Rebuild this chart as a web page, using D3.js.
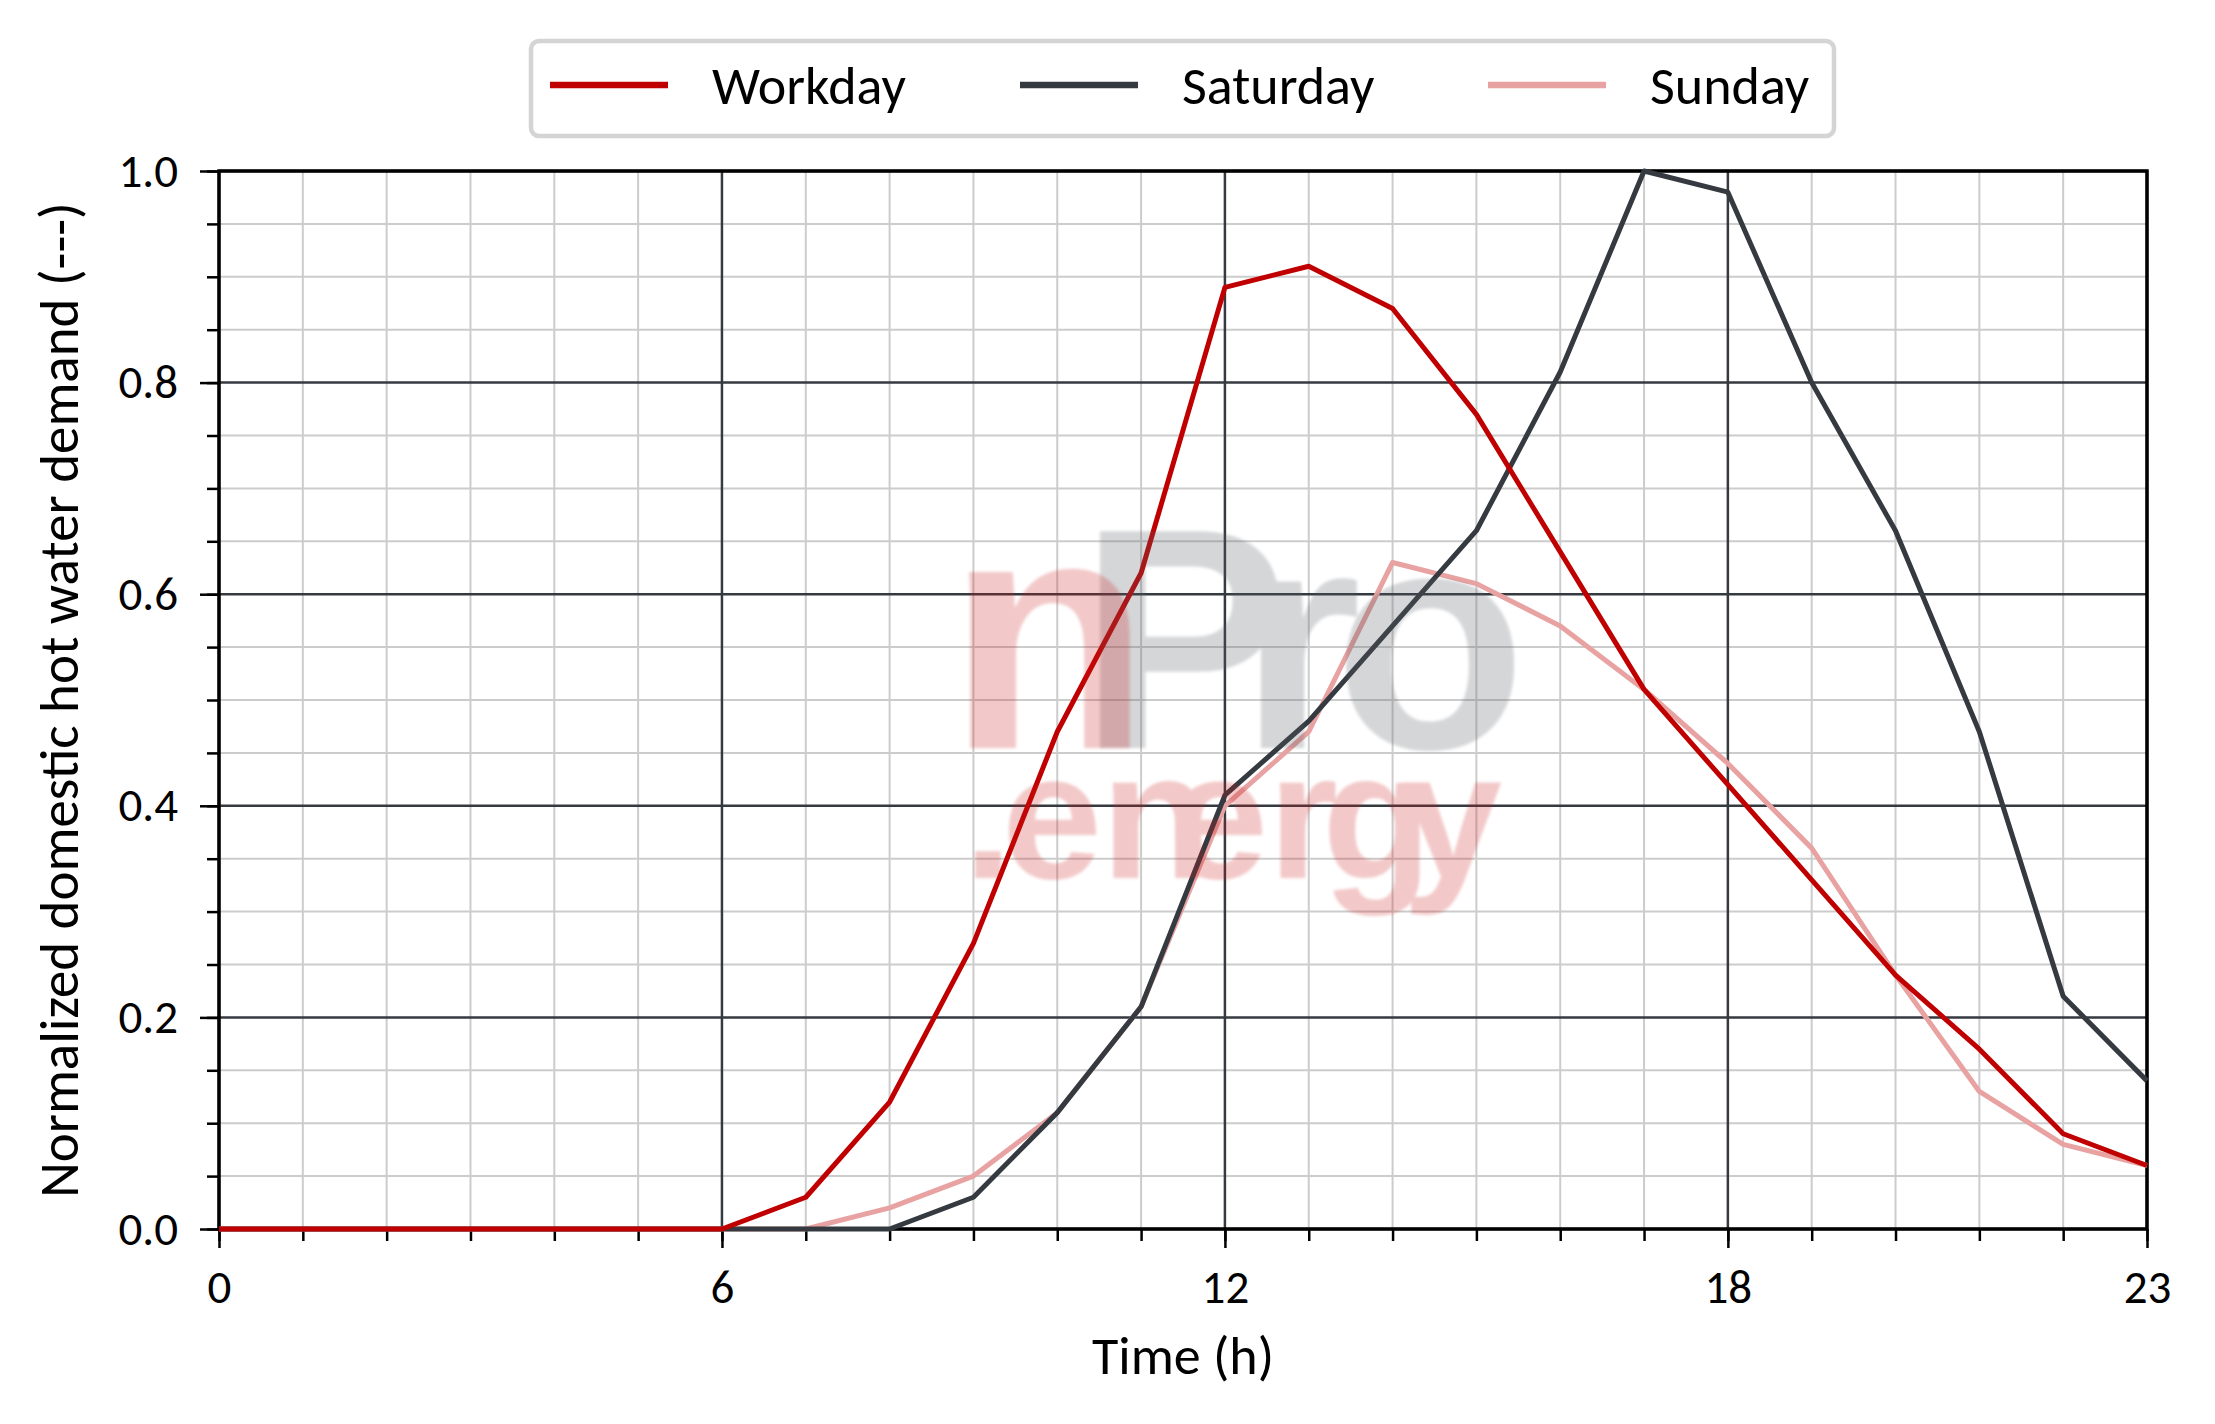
<!DOCTYPE html>
<html>
<head>
<meta charset="utf-8">
<script src="https://cdn.jsdelivr.net/npm/d3@7"></script>
<style>
  html, body { margin: 0; padding: 0; background: #ffffff; }
  svg { display: block; }
  text { font-family: Carlito, Lato, "Open Sans", sans-serif; }
  text.wm { font-family: "Liberation Sans", Arial, sans-serif; font-weight: bold; }
</style>
</head>
<body>
<svg id="chart" width="2215" height="1424"></svg>
<script>
// ---------- data ----------
const hours = [0,1,2,3,4,5,6,7,8,9,10,11,12,13,14,15,16,17,18,19,20,21,22,23];
const workday  = [0,0,0,0,0,0,0,0.03,0.12,0.27,0.47,0.62,0.89,0.91,0.87,0.77,0.64,0.51,0.42,0.33,0.24,0.17,0.09,0.06];
const saturday = [0,0,0,0,0,0,0,0,0,0.03,0.11,0.21,0.41,0.48,0.57,0.66,0.81,1.00,0.98,0.80,0.66,0.47,0.22,0.14];
const sunday   = [0,0,0,0,0,0,0,0,0.02,0.05,0.11,0.21,0.40,0.47,0.63,0.61,0.57,0.51,0.44,0.36,0.24,0.13,0.08,0.06];
const seriesNames = ["Workday", "Saturday", "Sunday"];
const xMajorTicks = [0, 6, 12, 18, 23];
const yMajorTicks = [0, 0.2, 0.4, 0.6, 0.8, 1.0];
const xLabel = "Time (h)";
const yLabel = "Normalized domestic hot water demand (---)";

// ---------- layout ----------
const W = 2215, H = 1424;
const M = { left: 219, right: 2147, top: 171, bottom: 1229 };
const colors = { Workday: "#c00000", Saturday: "#343a40", Sunday: "#e8a2a2" };

const svg = d3.select("#chart");
svg.append("rect").attr("width", W).attr("height", H).attr("fill", "#ffffff");

const x = d3.scaleLinear().domain([0, 23]).range([M.left, M.right]);
const y = d3.scaleLinear().domain([0, 1]).range([M.bottom, M.top]);

// minor grid
const yMinor = d3.range(0, 21).map(i => i * 0.05);
const grid = svg.append("g");
grid.selectAll("line.xm").data(hours.filter(h => !xMajorTicks.includes(h))).join("line")
  .attr("x1", d => x(d)).attr("x2", d => x(d)).attr("y1", M.top).attr("y2", M.bottom)
  .attr("stroke", "#cccccc").attr("stroke-width", 2);
grid.selectAll("line.ym").data(yMinor.filter((v, i) => i % 4 !== 0)).join("line")
  .attr("y1", d => y(d)).attr("y2", d => y(d)).attr("x1", M.left).attr("x2", M.right)
  .attr("stroke", "#cccccc").attr("stroke-width", 2);
// major grid
grid.selectAll("line.xM").data(xMajorTicks).join("line")
  .attr("x1", d => x(d)).attr("x2", d => x(d)).attr("y1", M.top).attr("y2", M.bottom)
  .attr("stroke", "#343a40").attr("stroke-width", 2.5);
grid.selectAll("line.yM").data(yMajorTicks).join("line")
  .attr("y1", d => y(d)).attr("y2", d => y(d)).attr("x1", M.left).attr("x2", M.right)
  .attr("stroke", "#343a40").attr("stroke-width", 2.5);

// axes
const xAxisMinor = d3.axisBottom(x).tickValues(hours).tickSize(12).tickFormat("");
const xAxisMajor = d3.axisBottom(x).tickValues(xMajorTicks).tickSize(19).tickPadding(22).tickFormat(d3.format("d"));
const yAxisMinor = d3.axisLeft(y).tickValues(yMinor).tickSize(12).tickFormat("");
const yAxisMajor = d3.axisLeft(y).tickValues(yMajorTicks).tickSize(19).tickPadding(22).tickFormat(d3.format(".1f"));

function styleAxis(g) {
  g.select(".domain").remove();
  g.selectAll(".tick line").attr("stroke", "#000").attr("stroke-width", 2.5);
  g.selectAll(".tick text").attr("fill", "#000").attr("font-size", 47);
}
svg.append("g").attr("transform", `translate(0,${M.bottom})`).call(xAxisMinor).call(styleAxis);
svg.append("g").attr("transform", `translate(0,${M.bottom})`).call(xAxisMajor).call(styleAxis);
svg.append("g").attr("transform", `translate(${M.left},0)`).call(yAxisMinor).call(styleAxis);
svg.append("g").attr("transform", `translate(${M.left},0)`).call(yAxisMajor).call(styleAxis);

// frame
svg.append("rect").attr("x", M.left).attr("y", M.top)
  .attr("width", M.right - M.left).attr("height", M.bottom - M.top)
  .attr("fill", "none").attr("stroke", "#000").attr("stroke-width", 3.5);

// axis labels
svg.append("text").attr("x", (M.left + M.right) / 2).attr("y", 1374)
  .attr("text-anchor", "middle").attr("font-size", 54).attr("fill", "#000").text(xLabel);
svg.append("text").attr("transform", `translate(78,${(M.top + M.bottom) / 2}) rotate(-90)`)
  .attr("text-anchor", "middle").attr("font-size", 55).attr("fill", "#000").text(yLabel);

// lines
const seriesData = { Workday: workday, Saturday: saturday, Sunday: sunday };
const line = d3.line().x((d, i) => x(hours[i])).y(d => y(d));
["Sunday", "Saturday", "Workday"].forEach(name => {
  svg.append("path").datum(seriesData[name])
    .attr("d", line).attr("fill", "none")
    .attr("stroke", colors[name]).attr("stroke-width", 5)
    .attr("stroke-linejoin", "round");
});

// watermark (flat, semi-transparent groups so overlapping glyphs do not darken)
const defs = svg.append("defs");
defs.append("filter").attr("id", "wmblur").append("feGaussianBlur").attr("stdDeviation", 1.8);
const wmGray = svg.append("g").attr("filter", "url(#wmblur)").attr("opacity", 0.25);
wmGray.append("text").attr("class", "wm").attr("x", "1079 1239 1334").attr("y", 748).attr("font-size", 315)
  .attr("fill", "#5a5f66").text("Pro");
const wmPink = svg.append("g").attr("filter", "url(#wmblur)").attr("opacity", 0.24);
wmPink.append("text").attr("class", "wm").attr("x", 947).attr("y", 748).attr("font-size", 333)
  .attr("fill", "#cc1f1f").text("n");
wmPink.append("text").attr("class", "wm").attr("x", "963 1002 1101 1168 1268 1322 1402").attr("y", 878).attr("font-size", 180)
  .attr("fill", "#cc1f1f").text(".energy");

// legend
const lg = svg.append("g");
lg.append("rect").attr("x", 531).attr("y", 41).attr("width", 1303).attr("height", 95)
  .attr("rx", 8).attr("fill", "#fff").attr("stroke", "#d4d4d4").attr("stroke-width", 4.5);
const legendX = [550, 1020, 1488];
seriesNames.forEach((name, i) => {
  lg.append("line").attr("x1", legendX[i]).attr("x2", legendX[i] + 118)
    .attr("y1", 85).attr("y2", 85).attr("stroke", colors[name]).attr("stroke-width", 6.5);
  lg.append("text").attr("x", legendX[i] + 162).attr("y", 104)
    .attr("font-size", 54).attr("fill", "#000").text(name);
});
</script>
</body>
</html>
